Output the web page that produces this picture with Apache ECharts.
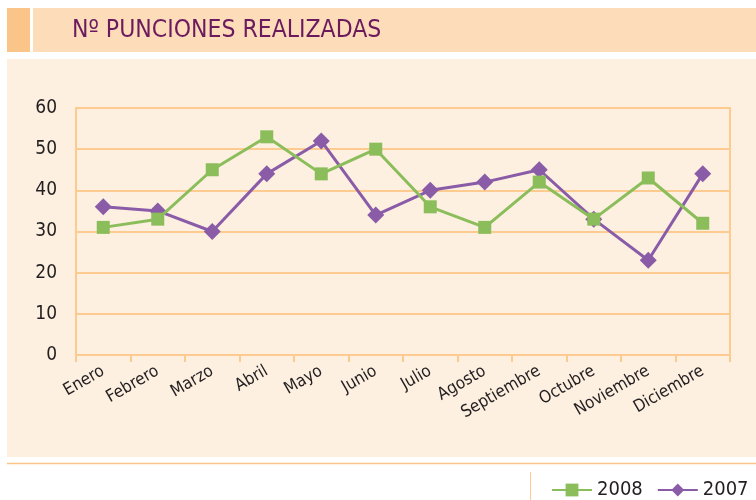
<!DOCTYPE html>
<html>
<head>
<meta charset="utf-8">
<script src="https://cdn.jsdelivr.net/npm/echarts@6/dist/echarts.min.js"></script>
<style>
  html, body { margin: 0; padding: 0; background: #fff; }
  #chart { width: 756px; height: 500px; }
</style>
</head>
<body>
<div id="chart"></div>
<script>
// data
var months = ['Enero', 'Febrero', 'Marzo', 'Abril', 'Mayo', 'Junio', 'Julio', 'Agosto', 'Septiembre', 'Octubre', 'Noviembre', 'Diciembre'];
var data2008 = [31, 33, 45, 53, 44, 50, 36, 31, 42, 33, 43, 32];
var data2007 = [36, 35, 30, 44, 52, 34, 40, 42, 45, 33, 23, 44];

var FONT = '"Liberation Sans Narrow", "DejaVu Sans Condensed", sans-serif';
var GRID_COLOR = '#FDCB90';
var GREEN = '#8BBD5B';
var PURPLE = '#8A5CA8';

var chart = echarts.init(document.getElementById('chart'));

chart.setOption({
  backgroundColor: '#ffffff',
  animation: false,
  textStyle: { fontFamily: FONT },
  title: {
    text: 'Nº PUNCIONES REALIZADAS',
    left: 67,
    top: 13,
    textStyle: {
      fontFamily: FONT,
      fontSize: 24.5,
      fontWeight: 'normal',
      color: '#6B1A5E'
    }
  },
  graphic: [
    // orange block + title bar
    { type: 'rect', z: -10, shape: { x: 7, y: 8, width: 23, height: 44 }, style: { fill: '#FBC58A' } },
    { type: 'rect', z: -10, shape: { x: 33, y: 8, width: 723, height: 44 }, style: { fill: '#FDDDB9' } },
    // plot panel
    { type: 'rect', z: -10, shape: { x: 7, y: 59, width: 749, height: 398 }, style: { fill: '#FDF0E1' } },
    // separator lines
    { type: 'line', z: -10, shape: { x1: 7, y1: 463.5, x2: 756, y2: 463.5 }, style: { stroke: '#FBC58A', lineWidth: 1.5 } },
    { type: 'line', z: -10, shape: { x1: 530.5, y1: 472, x2: 530.5, y2: 500 }, style: { stroke: GRID_COLOR, lineWidth: 1 } }
  ],
  legend: {
    left: 546,
    top: 475,
    itemWidth: 40,
    itemHeight: 16,
    itemGap: 14,
    textStyle: { fontFamily: FONT, fontSize: 20, color: '#231F20' },
    data: ['2008', '2007']
  },
  grid: {
    left: 76,
    right: 26,
    top: 108,
    bottom: 145,
    show: true,
    backgroundColor: 'transparent',
    borderColor: GRID_COLOR,
    borderWidth: 2
  },
  xAxis: {
    type: 'category',
    data: months,
    boundaryGap: true,
    axisLine: { lineStyle: { color: GRID_COLOR, width: 2 } },
    axisTick: { show: true, length: 7, lineStyle: { color: GRID_COLOR, width: 2 } },
    axisLabel: {
      interval: 0,
      rotate: 30,
      margin: 15,
      fontFamily: FONT,
      fontSize: 17,
      color: '#231F20'
    },
    splitLine: { show: false }
  },
  yAxis: {
    type: 'value',
    min: 0,
    max: 60,
    interval: 10,
    axisLine: { show: true, lineStyle: { color: GRID_COLOR, width: 2 } },
    axisTick: { show: false },
    axisLabel: {
      margin: 19,
      fontFamily: FONT,
      fontSize: 19,
      color: '#231F20'
    },
    splitLine: { lineStyle: { color: GRID_COLOR, width: 2 } }
  },
  series: [
    {
      name: '2008',
      type: 'line',
      data: data2008,
      z: 4,
      symbol: 'rect',
      symbolSize: 13,
      color: GREEN,
      lineStyle: { color: GREEN, width: 3 },
      itemStyle: { color: GREEN }
    },
    {
      name: '2007',
      type: 'line',
      data: data2007,
      z: 3,
      symbol: 'diamond',
      symbolSize: 17,
      color: PURPLE,
      lineStyle: { color: PURPLE, width: 3 },
      itemStyle: { color: PURPLE }
    }
  ]
});
</script>
</body>
</html>
